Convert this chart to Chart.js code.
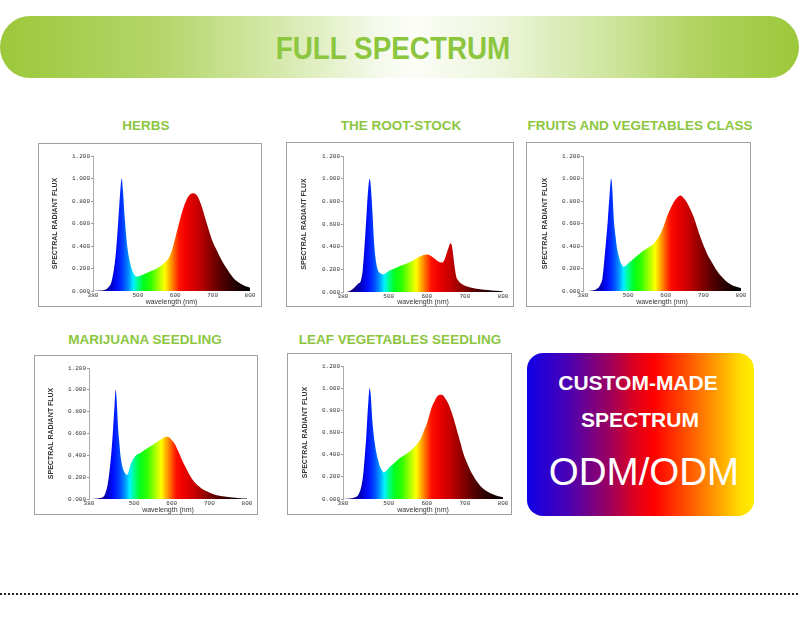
<!DOCTYPE html>
<html><head><meta charset="utf-8">
<script src="https://cdn.jsdelivr.net/npm/chart.js@4.4.0/dist/chart.umd.min.js"></script>
<style>
html,body{margin:0;padding:0;background:#fff;}
body{width:800px;height:618px;position:relative;overflow:hidden;font-family:"Liberation Sans",Arial,sans-serif;}
.banner{position:absolute;left:0;top:16px;width:799px;height:62px;border-radius:30px/31px;
 background:linear-gradient(to right,#9cc83a 0%,#b4d66a 20%,#d8eab0 36%,#f6faee 48%,#fbfdf7 52%,#eef6dd 62%,#cfe59f 76%,#aed25c 88%,#9cc83a 100%);}
.t{position:absolute;white-space:nowrap;transform:translate(-50%,-50%);line-height:1;}
.big{font-size:32px;font-weight:bold;color:#8cc63f;transform:translate(-50%,-50%) scaleX(0.87);}
.ct{font-size:13.5px;font-weight:bold;color:#8cc63f;}
.box{position:absolute;border:1px solid #a0a0a0;background:#fff;}
.box canvas{display:block;}
.custom{position:absolute;left:527px;top:353px;width:227px;height:163px;border-radius:16px;
 background:linear-gradient(to right,#1000e8 0%,#4a00b4 18%,#9a0060 36%,#e0001c 48%,#ff0000 56%,#ff5a00 72%,#ffa000 84%,#ffdc00 94%,#ffee00 100%);}
.w{color:#fff;font-weight:bold;font-size:21px;}
.odm{color:#fff;font-size:38.5px;}
.dots{position:absolute;left:0;top:593px;width:800px;height:2px;
 background:repeating-linear-gradient(to right,#222 0,#222 2px,transparent 2px,transparent 4px);}
</style></head>
<body>
<div class="banner"></div>
<div class="t big" style="left:393px;top:48px;">FULL SPECTRUM</div>

<div class="t ct" style="left:146px;top:126px;">HERBS</div>
<div class="t ct" style="left:401px;top:126px;">THE ROOT-STOCK</div>
<div class="t ct" style="left:640px;top:126px;">FRUITS AND VEGETABLES CLASS</div>
<div class="t ct" style="left:145px;top:340px;">MARIJUANA SEEDLING</div>
<div class="t ct" style="left:400px;top:340px;">LEAF VEGETABLES SEEDLING</div>

<div class="box" style="left:38px;top:143px;width:222px;height:162px;"><canvas id="c1" width="222" height="162"></canvas></div>
<div class="box" style="left:286px;top:142px;width:226px;height:163px;"><canvas id="c2" width="226" height="163"></canvas></div>
<div class="box" style="left:526px;top:142px;width:223px;height:163px;"><canvas id="c3" width="223" height="163"></canvas></div>
<div class="box" style="left:34px;top:355px;width:222px;height:158px;"><canvas id="c4" width="222" height="158"></canvas></div>
<div class="box" style="left:287px;top:353px;width:223px;height:160px;"><canvas id="c5" width="223" height="160"></canvas></div>

<div class="custom"></div>
<div class="t w" style="left:638px;top:382px;">CUSTOM-MADE</div>
<div class="t w" style="left:640px;top:419px;">SPECTRUM</div>
<div class="t odm" style="left:644px;top:472px;">ODM/ODM</div>

<div class="dots"></div>

<script>
// ---------------- data ----------------
const xTicks = [380, 500, 600, 700, 800];
const yTicksMax = 1.2;

const herbsWl  = [380,400,410,420,430,440,445,450,455,457,460,465,470,475,480,485,490,495,500,510,520,530,540,550,560,570,580,590,600,610,620,630,640,648,655,660,670,680,690,700,710,720,730,740,750,760,770,780,790,800];
const herbsVal = [0,0.005,0.01,0.03,0.09,0.30,0.50,0.75,0.97,1.0,0.90,0.65,0.45,0.32,0.24,0.18,0.15,0.13,0.13,0.14,0.155,0.17,0.185,0.20,0.22,0.25,0.28,0.35,0.47,0.60,0.72,0.81,0.86,0.87,0.86,0.84,0.76,0.65,0.54,0.44,0.37,0.30,0.24,0.19,0.14,0.10,0.075,0.055,0.04,0.03];

const rootWl  = [380,395,410,420,427,432,438,443,447,450,453,457,462,467,472,478,485,492,500,510,520,535,550,565,580,590,600,610,620,630,640,647,652,657,662,665,668,672,677,683,690,700,720,740,760,780,800];
const rootVal = [0,0.005,0.04,0.075,0.10,0.20,0.48,0.75,0.94,1.0,0.93,0.72,0.42,0.26,0.19,0.165,0.155,0.165,0.185,0.20,0.215,0.235,0.255,0.28,0.31,0.325,0.33,0.32,0.295,0.27,0.26,0.29,0.34,0.39,0.43,0.42,0.36,0.25,0.14,0.10,0.075,0.055,0.035,0.025,0.017,0.01,0.005];

const fruitWl  = [380,405,417,425,432,439,446,451,455,458,462,466,470,475,479,484,488,495,505,515,528,541,555,568,577,586,595,603,612,621,630,639,647,656,665,674,683,692,701,710,718,727,736,745,754,763,772,781,790,800];
const fruitVal = [0,0.005,0.02,0.05,0.12,0.36,0.63,0.87,1.0,0.9,0.63,0.50,0.39,0.31,0.26,0.23,0.215,0.23,0.26,0.29,0.325,0.36,0.39,0.42,0.46,0.51,0.58,0.66,0.73,0.79,0.83,0.85,0.83,0.79,0.73,0.66,0.57,0.48,0.40,0.33,0.28,0.23,0.18,0.14,0.11,0.08,0.06,0.045,0.035,0.025];

const marWl  = [380,410,422,430,435,440,444,448,451,454,457,461,464,468,471,476,480,485,489,495,502,508,515,524,533,542,551,560,569,578,586,593,600,607,613,622,631,640,649,658,667,680,693,706,720,740,760,780,800];
const marVal = [0,0.01,0.04,0.14,0.27,0.45,0.64,0.86,1.0,0.88,0.67,0.50,0.39,0.31,0.27,0.235,0.22,0.245,0.30,0.35,0.39,0.41,0.42,0.44,0.46,0.48,0.50,0.52,0.54,0.56,0.57,0.565,0.54,0.51,0.47,0.40,0.33,0.27,0.21,0.165,0.13,0.095,0.07,0.05,0.035,0.022,0.014,0.008,0.005];

const leafWl  = [380,415,422,428,433,437,441,444,447,450,453,457,462,468,473,477,482,487,495,503,516,529,543,556,565,573,580,586,593,600,607,613,620,626,635,642,648,655,661,670,679,688,696,705,714,722,731,740,749,762,775,788,800];
const leafVal = [0,0.02,0.05,0.11,0.22,0.38,0.56,0.74,0.9,1.0,0.93,0.71,0.54,0.41,0.34,0.29,0.26,0.24,0.26,0.29,0.33,0.37,0.40,0.43,0.46,0.49,0.52,0.56,0.62,0.68,0.76,0.83,0.88,0.92,0.94,0.935,0.91,0.87,0.82,0.73,0.62,0.51,0.41,0.33,0.26,0.21,0.16,0.12,0.09,0.06,0.04,0.025,0.015];

// ---------------- style ----------------
const spectrumStops = [
  [380,'#1a0050'],[410,'#10008a'],[430,'#0000c8'],[445,'#0010ff'],[460,'#0040ff'],
  [475,'#0090ff'],[488,'#00f0ff'],[500,'#00ff90'],[515,'#00ff20'],[535,'#30ff00'],
  [555,'#a0ff00'],[572,'#ffff00'],[585,'#ffb000'],[598,'#ff6000'],[612,'#ff1000'],
  [630,'#f00000'],[660,'#c80000'],[690,'#900000'],[720,'#5a0000'],[750,'#300000'],
  [780,'#100000'],[800,'#000000']
];

function spectrumFill(ctx) {
  const chart = ctx.chart;
  const xs = chart.scales.x;
  if (!chart.chartArea || !xs) return '#0000ff';
  const x0 = xs.getPixelForValue(380), x1 = xs.getPixelForValue(800);
  const g = chart.ctx.createLinearGradient(x0, 0, x1, 0);
  spectrumStops.forEach(([w, c]) => g.addColorStop((w - 380) / 420, c));
  return g;
}

function makeChart(id, wl, vals, geom) {
  new Chart(document.getElementById(id), {
    type: 'line',
    data: { datasets: [{
      data: wl.map((w, i) => ({ x: w, y: vals[i] })),
      fill: 'origin',
      backgroundColor: spectrumFill,
      borderWidth: 0,
      pointRadius: 0,
      cubicInterpolationMode: 'monotone'
    }]},
    options: {
      responsive: false, animation: false, devicePixelRatio: 1,
      layout: { autoPadding: false, padding: { left: 0, right: geom.pr, top: geom.pt, bottom: 0 } },
      plugins: { legend: { display: false }, tooltip: { enabled: false } },
      scales: {
        x: {
          type: 'linear', min: 380, max: 800,
          afterBuildTicks: s => { s.ticks = xTicks.map(v => ({ value: v })); },
          afterFit: s => { s.height = geom.xh; },
          grid: { display: false, drawTicks: false },
          border: { display: false },
          ticks: { padding: 1, font: { family: 'Liberation Mono', size: 6, lineHeight: 1 }, color: '#333', maxRotation: 0, autoSkip: false },
          title: { display: true, text: 'wavelength (nm)', font: { family: 'Liberation Sans', size: 7, lineHeight: 1 }, color: '#333', padding: 0 }
        },
        y: {
          min: 0, max: yTicksMax,
          afterFit: s => { s.width = geom.yw; },
          ticks: { stepSize: 0.2, padding: 1, callback: v => Number(v).toFixed(3), font: { family: 'Liberation Mono', size: 6, lineHeight: 1 }, color: '#333' },
          grid: { drawOnChartArea: false, tickLength: 2, color: '#999' },
          border: { display: true, color: '#aaa' },
          title: { display: true, text: 'SPECTRAL RADIANT FLUX', font: { family: 'Liberation Sans', size: 7, weight: 'bold', lineHeight: 1.2 }, color: '#333', padding: { top: geom.tx - 4.2, bottom: 0 } }
        }
      }
    }
  });
}

makeChart('c1', herbsWl, herbsVal, { yw: 54, pr: 11, pt: 12, xh: 15, tx: 16 });
makeChart('c2', rootWl,  rootVal,  { yw: 56, pr: 10, pt: 13, xh: 14, tx: 17 });
makeChart('c3', fruitWl, fruitVal, { yw: 56, pr: 9,  pt: 13, xh: 15, tx: 18 });
makeChart('c4', marWl,   marVal,   { yw: 54, pr: 10, pt: 12, xh: 15, tx: 16 });
makeChart('c5', leafWl,  leafVal,  { yw: 55, pr: 8,  pt: 12, xh: 15, tx: 17 });
</script>
</body></html>
